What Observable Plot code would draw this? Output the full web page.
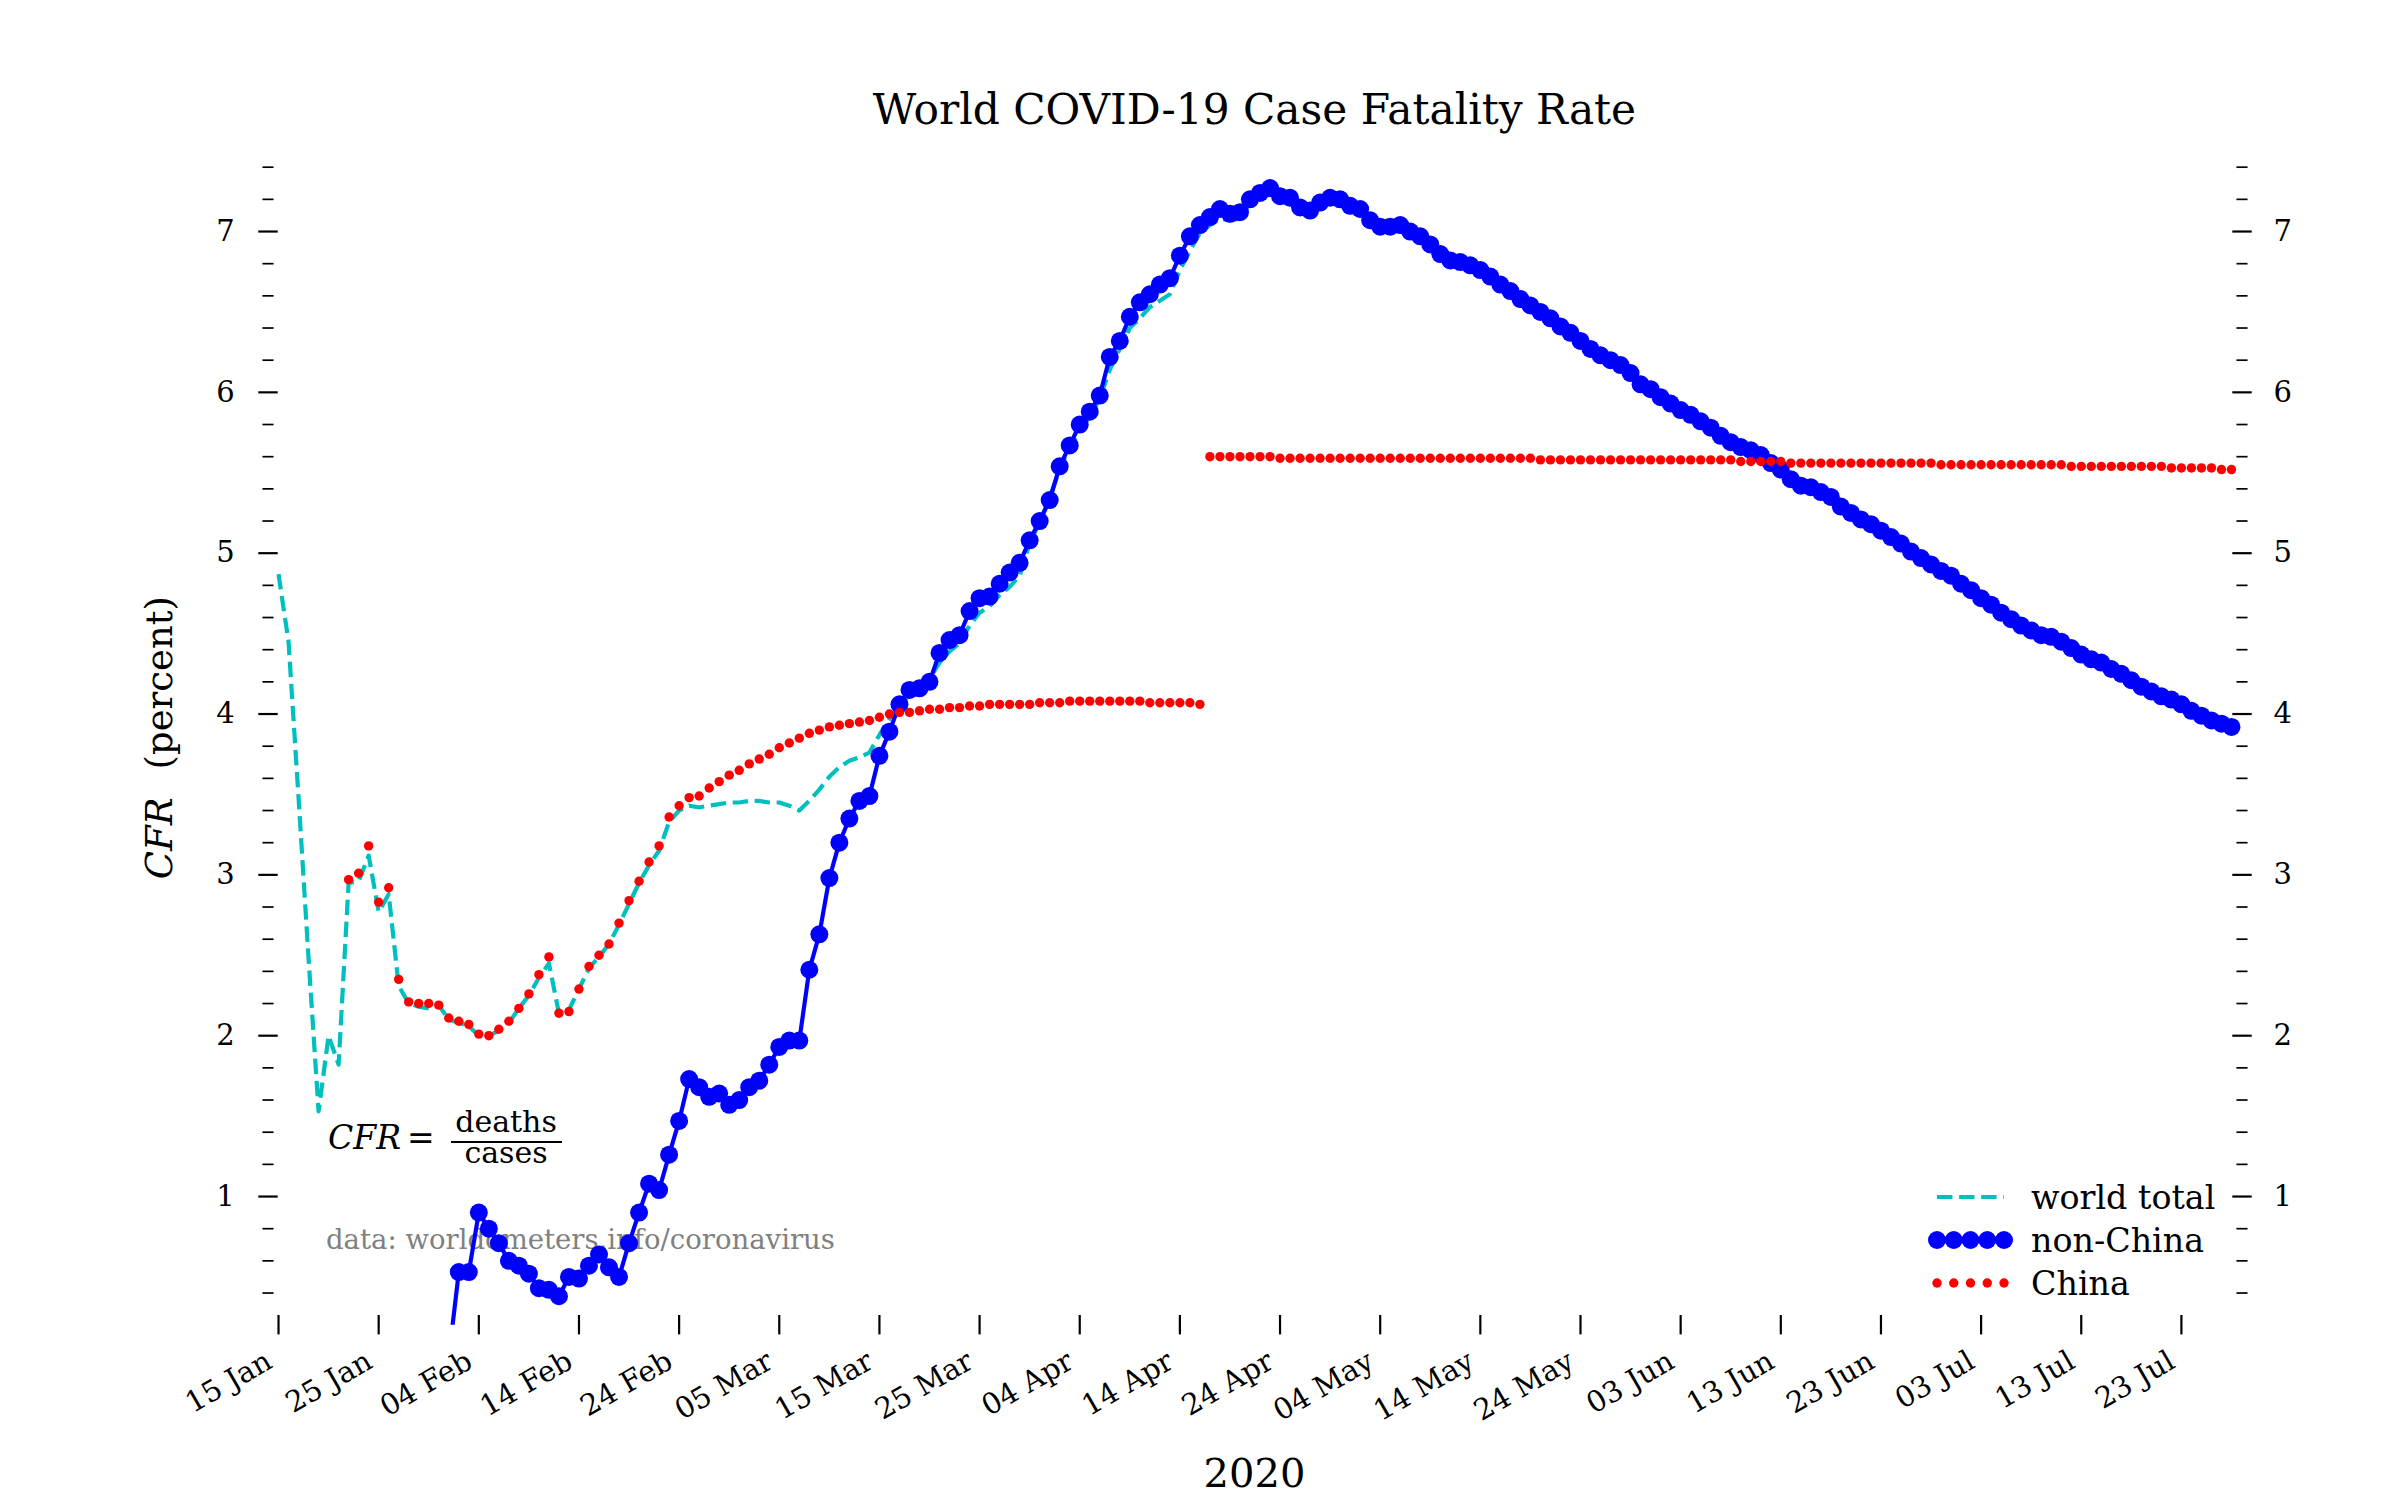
<!DOCTYPE html>
<html>
<head>
<meta charset="utf-8">
<script src="https://cdn.jsdelivr.net/npm/d3@7"></script>
<script src="https://cdn.jsdelivr.net/npm/@observablehq/plot@0.6"></script>
<style>
  html, body { margin: 0; padding: 0; background: #fff; }
  svg { display: block; }
</style>
</head>
<body>
<div id="chart"></div>
<script>
// ---------------- data ----------------
const worldStart = "2020-01-15";
const worldTotal = [
  4.87, 4.45, 3.48, 2.48, 1.53, 2.00, 1.82, 2.95, 2.96, 3.12,
  2.77, 2.88, 2.31, 2.20, 2.18, 2.17, 2.19, 2.10, 2.08, 2.06,
  2.00, 2.00, 2.03, 2.08, 2.17, 2.25, 2.36, 2.45, 2.14, 2.16,
  2.29, 2.42, 2.49, 2.57, 2.69, 2.82, 2.95, 3.06, 3.15, 3.33,
  3.40, 3.43, 3.42, 3.43, 3.44, 3.45, 3.45, 3.46, 3.46, 3.45,
  3.45, 3.43, 3.40, 3.46, 3.53, 3.61, 3.67, 3.71, 3.73, 3.76,
  3.87, 3.97, 4.05, 4.12, 4.15, 4.22, 4.32, 4.39, 4.44, 4.55,
  4.63, 4.67, 4.74, 4.79, 4.86, 5.06, 5.19, 5.35, 5.52, 5.66,
  5.76, 5.85, 5.96, 6.14, 6.27, 6.40, 6.46, 6.53, 6.57, 6.61,
  6.76, 6.88, 6.99, 7.04, 7.08, 7.07, 7.08, 7.18, 7.21, 7.23,
  7.19, 7.17, 7.11, 7.11, 7.16, 7.19, 7.18, 7.14, 7.12, 7.04,
  7.00, 7.00, 7.01, 6.97, 6.94, 6.89, 6.83, 6.79, 6.78, 6.76,
  6.73, 6.70, 6.65, 6.61, 6.56, 6.52, 6.48, 6.44, 6.39, 6.35,
  6.30, 6.25, 6.21, 6.18, 6.15, 6.10, 6.04, 6.01, 5.96, 5.92,
  5.88, 5.85, 5.81, 5.77, 5.72, 5.68, 5.65, 5.63, 5.61, 5.56,
  5.52, 5.46, 5.42, 5.41, 5.38, 5.35, 5.29, 5.25, 5.21, 5.18,
  5.14, 5.10, 5.06, 5.02, 4.98, 4.94, 4.90, 4.87, 4.82, 4.78,
  4.73, 4.69, 4.64, 4.60, 4.56, 4.53, 4.50, 4.49, 4.46, 4.42,
  4.38, 4.35, 4.33, 4.29, 4.26, 4.22, 4.18, 4.15, 4.12, 4.10,
  4.07, 4.03, 4.00, 3.97, 3.95, 3.93
];

const nonChinaStart = "2020-02-01";
const nonChina = [
  0.00, 0.53, 0.53, 0.90, 0.80, 0.71, 0.60, 0.57, 0.52, 0.43,
  0.42, 0.38, 0.50, 0.49, 0.57, 0.64, 0.56, 0.50, 0.71, 0.90,
  1.08, 1.04, 1.26, 1.47, 1.73, 1.68, 1.62, 1.64, 1.57, 1.60,
  1.68, 1.72, 1.82, 1.93, 1.97, 1.97, 2.41, 2.63, 2.98, 3.20,
  3.35, 3.46, 3.49, 3.74, 3.89, 4.06, 4.15, 4.16, 4.20, 4.38,
  4.46, 4.49, 4.64, 4.72, 4.73, 4.81, 4.88, 4.94, 5.08, 5.20,
  5.33, 5.54, 5.67, 5.80, 5.88, 5.98, 6.22, 6.32, 6.47, 6.56,
  6.61, 6.67, 6.71, 6.85, 6.97, 7.04, 7.09, 7.14, 7.11, 7.12,
  7.20, 7.24, 7.27, 7.22, 7.21, 7.15, 7.13, 7.18, 7.21, 7.20,
  7.16, 7.14, 7.07, 7.03, 7.03, 7.04, 7.00, 6.97, 6.92, 6.86,
  6.82, 6.81, 6.79, 6.76, 6.72, 6.67, 6.63, 6.58, 6.54, 6.50,
  6.46, 6.41, 6.37, 6.32, 6.27, 6.23, 6.20, 6.17, 6.12, 6.05,
  6.02, 5.97, 5.93, 5.89, 5.86, 5.82, 5.78, 5.73, 5.69, 5.66,
  5.64, 5.61, 5.56, 5.52, 5.46, 5.42, 5.41, 5.38, 5.35, 5.29,
  5.25, 5.21, 5.18, 5.14, 5.10, 5.06, 5.01, 4.97, 4.93, 4.89,
  4.86, 4.81, 4.77, 4.72, 4.68, 4.63, 4.59, 4.55, 4.52, 4.49,
  4.48, 4.45, 4.41, 4.37, 4.34, 4.32, 4.28, 4.25, 4.21, 4.17,
  4.14, 4.11, 4.09, 4.06, 4.02, 3.99, 3.96, 3.94, 3.92
];

const chinaStart = "2020-01-22";
const china = [
  2.97, 3.01, 3.18, 2.83, 2.92, 2.35, 2.21, 2.20, 2.20, 2.19,
  2.11, 2.09, 2.07, 2.01, 2.00, 2.04, 2.09, 2.17, 2.26, 2.38,
  2.49, 2.14, 2.15, 2.29, 2.43, 2.50, 2.57, 2.70, 2.84, 2.96,
  3.08, 3.18, 3.36, 3.43, 3.48, 3.49, 3.54, 3.58, 3.62, 3.65,
  3.69, 3.72, 3.75, 3.79, 3.82, 3.85, 3.88, 3.90, 3.92, 3.93,
  3.94, 3.95, 3.96, 3.98, 4.00, 4.01, 4.01, 4.02, 4.03, 4.03,
  4.04, 4.04, 4.05, 4.05, 4.06, 4.06, 4.06, 4.06, 4.06, 4.07,
  4.07, 4.07, 4.08, 4.08, 4.08, 4.08, 4.08, 4.08, 4.08, 4.08,
  4.07, 4.07, 4.07, 4.07, 4.07, 4.06,
  5.60, 5.60, 5.60, 5.60, 5.60, 5.60, 5.60,
  5.59, 5.59, 5.59, 5.59, 5.59, 5.59, 5.59, 5.59, 5.59, 5.59,
  5.59, 5.59, 5.59, 5.59, 5.59, 5.59, 5.59, 5.59, 5.59, 5.59,
  5.59, 5.59, 5.59, 5.59, 5.59, 5.59,
  5.58, 5.58, 5.58, 5.58, 5.58, 5.58, 5.58, 5.58, 5.58, 5.58,
  5.58, 5.58, 5.58, 5.58, 5.58, 5.58, 5.58, 5.58, 5.58, 5.58,
  5.57, 5.57, 5.57, 5.57, 5.57,
  5.56, 5.56, 5.56, 5.56, 5.56, 5.56, 5.56, 5.56, 5.56, 5.56,
  5.56, 5.56, 5.56, 5.56, 5.56,
  5.55, 5.55, 5.55, 5.55, 5.55, 5.55, 5.55, 5.55, 5.55, 5.55,
  5.55, 5.55, 5.55,
  5.54, 5.54, 5.54, 5.54, 5.54, 5.54, 5.54, 5.54, 5.54, 5.54,
  5.53, 5.53, 5.53, 5.53, 5.53,
  5.52, 5.52
];

const seriesNames = ["world total", "non-China", "China"];
const seriesColors = ["#00bfbf", "#0000ff", "#ff0000"];

const xTickDates = [
  "2020-01-15", "2020-01-25", "2020-02-04", "2020-02-14", "2020-02-24",
  "2020-03-05", "2020-03-15", "2020-03-25", "2020-04-04", "2020-04-14",
  "2020-04-24", "2020-05-04", "2020-05-14", "2020-05-24", "2020-06-03",
  "2020-06-13", "2020-06-23", "2020-07-03", "2020-07-13", "2020-07-23"
];
const xTickLabels = [
  "15 Jan", "25 Jan", "04 Feb", "14 Feb", "24 Feb",
  "05 Mar", "15 Mar", "25 Mar", "04 Apr", "14 Apr",
  "24 Apr", "04 May", "14 May", "24 May", "03 Jun",
  "13 Jun", "23 Jun", "03 Jul", "13 Jul", "23 Jul"
];
const yMajorTicks = [1, 2, 3, 4, 5, 6, 7];
const yMinorTicks = [0.4, 0.6, 0.8, 1.2, 1.4, 1.6, 1.8, 2.2, 2.4, 2.6, 2.8,
  3.2, 3.4, 3.6, 3.8, 4.2, 4.4, 4.6, 4.8, 5.2, 5.4, 5.6, 5.8,
  6.2, 6.4, 6.6, 6.8, 7.2, 7.4];
const xDomain = ["2020-01-14", "2020-07-29"];
const yDomain = [0.2, 7.5];

const titleText = "World COVID-19 Case Fatality Rate";
const xLabelText = "2020";
const sourceText = "data: worldometers.info/coronavirus";

// ---------------- build tables ----------------
const toDate = s => new Date(s + "T00:00:00Z");
function rows(start, values) {
  const t0 = toDate(start).getTime();
  return values.map((v, i) => ({date: new Date(t0 + i * 864e5), value: v}));
}
const worldRows = rows(worldStart, worldTotal);
const nonChinaRows = rows(nonChinaStart, nonChina);
const chinaRows = rows(chinaStart, china);
const xTicks = xTickDates.map(toDate);

const FONT = "'DejaVu Serif', 'Liberation Serif', serif";
const TICK_FS = 29;

const plot = Plot.plot({
  width: 2400,
  height: 1500,
  marginLeft: 268,
  marginRight: 159,
  marginTop: 150.6,
  marginBottom: 175.3,
  style: {fontFamily: FONT, fontSize: TICK_FS + "px", background: "white", color: "black"},
  x: {type: "utc", domain: xDomain.map(toDate)},
  y: {type: "linear", domain: yDomain},
  marks: [
    Plot.axisY(yMinorTicks, {anchor: "left", tickSize: 11.1, dx: 5.55, strokeWidth: 1.7, tickFormat: () => "", label: null}),
    Plot.axisY(yMinorTicks, {anchor: "right", tickSize: 11.1, dx: -5.55, strokeWidth: 1.7, tickFormat: () => "", label: null}),
    Plot.axisY(yMajorTicks, {anchor: "left", tickSize: 19.4, dx: 9.7, tickPadding: 24, strokeWidth: 2.2, tickFormat: d => String(d), label: null}),
    Plot.axisY(yMajorTicks, {anchor: "right", tickSize: 19.4, dx: -9.7, tickPadding: 22.3, strokeWidth: 2.2, tickFormat: d => String(d), label: null}),
    Plot.axisX(xTicks, {anchor: "bottom", tickSize: 19.4, dy: -9.7, strokeWidth: 2.2, tickFormat: () => "", label: null}),
    Plot.line(worldRows, {x: "date", y: "value", stroke: seriesColors[0], strokeWidth: 4.2, strokeDasharray: "15.4,6.7", strokeLinecap: "butt", clip: true}),
    Plot.line(nonChinaRows, {x: "date", y: "value", stroke: seriesColors[1], strokeWidth: 4.2, clip: true}),
    Plot.dot(nonChinaRows, {x: "date", y: "value", r: 9, fill: seriesColors[1], stroke: "none", clip: true}),
    Plot.dot(chinaRows, {x: "date", y: "value", r: 4.7, fill: seriesColors[2], stroke: "none", clip: true})
  ]
});

document.getElementById("chart").appendChild(plot);

// ---------------- annotations ----------------
const svg = d3.select(plot);
const xs = plot.scale("x");
const frameBottom = 1500 - 175.3;

// rotated x tick labels (positioned through the plot's x scale)
const xl = svg.append("g").attr("font-family", FONT).attr("font-size", TICK_FS).attr("fill", "black").attr("text-anchor", "end");
xTicks.forEach((d, i) => {
  const px = xs.apply(d) - 4;
  const py = frameBottom + 42;
  xl.append("text")
    .attr("transform", `translate(${px},${py}) rotate(-30)`)
    .text(xTickLabels[i]);
});

// title
svg.append("text")
  .attr("x", 1254.5).attr("y", 124)
  .attr("text-anchor", "middle")
  .attr("font-family", FONT).attr("font-size", 42.3)
  .attr("fill", "black")
  .text(titleText);

// x label
svg.append("text")
  .attr("x", 1254.5).attr("y", 1487)
  .attr("text-anchor", "middle")
  .attr("font-family", FONT).attr("font-size", 40)
  .attr("fill", "black")
  .text(xLabelText);

// y label
const yl = svg.append("text")
  .attr("transform", "translate(172,737.6) rotate(-90)")
  .attr("text-anchor", "middle")
  .attr("font-family", FONT).attr("font-size", 37)
  .attr("fill", "black");
yl.append("tspan").attr("font-style", "italic").text("CFR");
yl.append("tspan").attr("dx", 28).text("(percent)");

// formula + source text, placed beneath the data marks
const ann = svg.insert("g", "[aria-label=line]").attr("text-anchor", "start");
const f = ann.append("g").attr("font-family", FONT).attr("fill", "black");
const lhs = f.append("text").attr("x", 328).attr("y", 1149).attr("font-size", 33).attr("text-anchor", "start");
lhs.append("tspan").attr("font-style", "italic").text("CFR");
lhs.append("tspan").attr("dx", 6).text("=");
const frac = f.append("text").attr("font-size", 30).attr("text-anchor", "middle");
frac.append("tspan").attr("x", 506).attr("y", 1132).text("deaths");
frac.append("tspan").attr("x", 506).attr("y", 1163).text("cases");
f.append("line").attr("x1", 451).attr("x2", 562).attr("y1", 1142).attr("y2", 1142).attr("stroke", "black").attr("stroke-width", 2);
ann.append("text")
  .attr("x", 326).attr("y", 1249)
  .attr("text-anchor", "start")
  .attr("font-family", FONT).attr("font-size", 27.5)
  .attr("fill", "#808080")
  .text(sourceText);

// legend
const lg = svg.append("g").attr("font-family", FONT).attr("font-size", 33.3).attr("text-anchor", "start");
const lx0 = 1937, lx1 = 2004, rowsY = [1197, 1240, 1283];
const pts = d3.range(5).map(i => lx0 + i * (lx1 - lx0) / 4);
lg.append("line").attr("x1", lx0).attr("x2", lx1).attr("y1", rowsY[0]).attr("y2", rowsY[0])
  .attr("stroke", seriesColors[0]).attr("stroke-width", 4.2).attr("stroke-dasharray", "15.4,6.7");
lg.append("line").attr("x1", lx0).attr("x2", lx1).attr("y1", rowsY[1]).attr("y2", rowsY[1])
  .attr("stroke", seriesColors[1]).attr("stroke-width", 4.2);
pts.forEach(px => lg.append("circle").attr("cx", px).attr("cy", rowsY[1]).attr("r", 9).attr("fill", seriesColors[1]));
pts.forEach(px => lg.append("circle").attr("cx", px).attr("cy", rowsY[2]).attr("r", 4.7).attr("fill", seriesColors[2]));
seriesNames.forEach((name, i) => {
  lg.append("text").attr("x", 2031).attr("y", rowsY[i]).attr("dy", "0.36em").attr("fill", "black").attr("text-anchor", "start").text(name);
});
</script>
</body>
</html>
